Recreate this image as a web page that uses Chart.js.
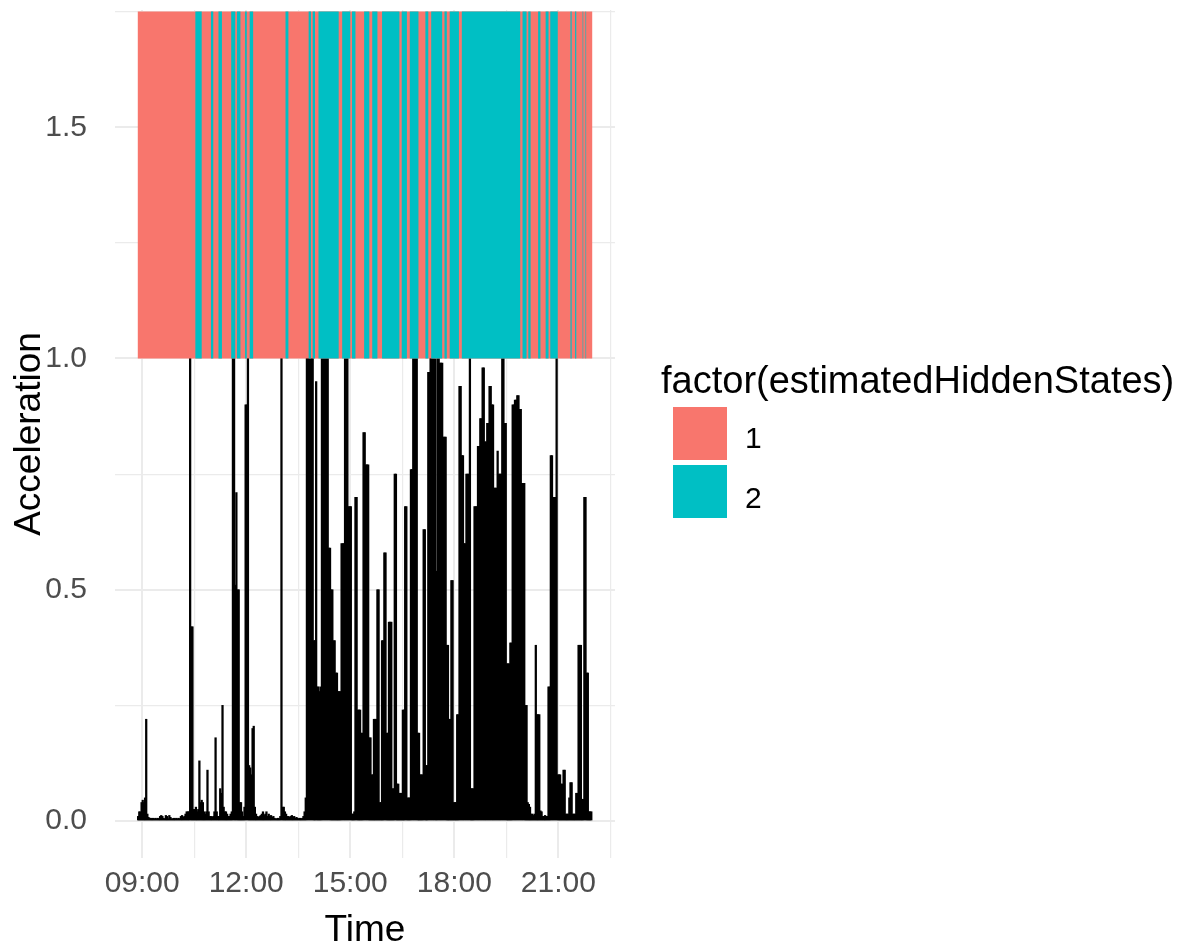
<!DOCTYPE html>
<html><head><meta charset="utf-8">
<script src="https://cdn.jsdelivr.net/npm/chart.js@4.4.0/dist/chart.umd.min.js"></script>
<style>
html,body{margin:0;padding:0;background:#fff;}
#wrap{position:relative;width:1185px;height:949px;overflow:hidden;}
#c{position:absolute;left:0;top:0;}
.lg{position:absolute;font-family:'Liberation Sans',Arial,sans-serif;color:#000;white-space:nowrap;line-height:1;}
.sw{position:absolute;width:54px;height:53px;}
</style></head><body>
<div id="wrap">
<canvas id="c" width="1185" height="949"></canvas>
<div class="lg" id="lgTitle" style="left:661px;top:361px;font-size:38px;"></div>
<div class="sw" id="sw1" style="left:673px;top:407px;"></div>
<div class="lg" id="lb1" style="left:745px;top:423px;font-size:30px;"></div>
<div class="sw" id="sw2" style="left:673px;top:465px;"></div>
<div class="lg" id="lb2" style="left:745px;top:483px;font-size:30px;"></div>
</div>
<script>
// ---- data ----
const startMinute = 533;   // 08:53
const stepMinutes = 2;
const acceleration = [
0.01,0.02,0.02,0.04,0.045,0.04,0.05,0.22,0.015,0.008,
0.006,0.006,0.005,0.006,0.005,0.006,0.005,0.006,0.005,0.01,
0.012,0.01,0.006,0.005,0.012,0.01,0.005,0.012,0.008,0.005,
0.005,0.006,0.005,0.006,0.005,0.006,0.005,0.01,0.012,0.008,
0.01,0.015,0.02,0.02,0.02,1.3,0.42,0.42,0.025,0.025,
0.03,0.02,0.025,0.13,0.04,0.045,0.04,0.02,0.015,0.02,
0.11,0.02,0.01,0.01,0.008,0.01,0.02,0.18,0.02,0.01,
0.01,0.07,0.06,0.25,0.03,0.02,0.02,0.015,0.01,0.01,
0.015,0.02,1.3,1.3,0.51,0.71,0.5,0.5,0.04,0.04,
0.02,0.01,0.03,0.9,0.9,1.3,0.12,0.115,0.1,0.2,
0.205,0.03,0.015,0.01,0.008,0.01,0.012,0.015,0.02,0.012,
0.015,0.02,0.01,0.015,0.01,0.012,0.008,0.01,0.006,0.005,
0.005,0.006,0.005,0.01,1.3,0.03,0.03,0.02,0.015,0.01,
0.01,0.008,0.01,0.012,0.008,0.01,0.006,0.008,0.006,0.005,
0.006,0.005,0.006,0.01,0.02,0.05,1.3,1.3,1.3,1.3,
1.3,1.3,0.39,0.39,0.95,0.29,0.29,0.28,0.29,1.3,
1.3,1.3,1.3,1.3,1.3,0.59,0.59,0.5,0.5,0.39,
0.39,0.32,0.32,0.28,0.28,0.28,0.6,0.6,0.6,1.3,
1.3,1.3,0.68,0.68,0.68,0.015,0.015,0.02,0.7,0.7,
0.24,0.24,0.24,0.19,0.19,0.84,0.84,0.77,0.77,0.77,
0.18,0.18,0.1,0.1,0.22,0.22,0.22,0.5,0.5,0.04,
0.04,0.39,0.39,0.58,0.58,0.19,0.19,0.43,0.43,0.43,
0.07,0.07,0.75,0.75,0.08,0.08,0.06,0.06,0.06,0.24,
0.24,0.68,0.68,0.05,0.05,0.05,0.76,0.76,1.3,1.3,
1.3,1.3,0.19,0.19,0.1,0.1,0.1,0.63,0.63,0.12,
0.12,0.97,0.97,1.3,1.3,1.0,1.0,1.0,0.54,1.3,
1.3,0.99,0.99,0.99,0.83,0.83,0.83,0.38,0.38,0.22,
0.22,0.52,0.52,0.04,0.04,0.04,0.23,0.23,0.94,0.94,
0.79,0.79,0.6,0.6,0.75,0.75,0.75,1.3,0.07,0.07,
0.07,0.68,0.68,0.68,0.81,0.81,0.87,0.87,0.98,0.98,
0.82,0.82,0.86,0.86,0.94,0.94,0.9,0.9,0.72,0.72,
0.72,0.8,0.75,0.75,0.75,1.3,1.3,0.86,0.86,0.34,
0.34,0.34,0.385,0.385,0.9,0.9,0.91,0.91,0.92,0.92,
0.89,0.89,0.73,0.73,0.73,0.25,0.25,0.04,0.036,0.03,
0.015,0.015,0.012,0.015,0.38,0.23,0.23,0.23,0.022,0.02,
0.01,0.01,0.012,0.01,0.01,0.29,0.29,0.79,0.79,0.7,
0.7,0.7,1.3,0.1,0.1,0.1,0.08,0.08,0.11,0.11,
0.015,0.015,0.015,0.05,0.083,0.083,0.015,0.015,0.015,0.06,
0.06,0.38,0.38,0.38,0.047,0.047,0.7,0.7,0.32,0.32,
0.02,0.02,0.02
];
// hidden state runs: start minute of each run and its state
const stateRunStart = [532,632,643,659,663,672,678,694,701,704,710,718,721,726,732,788,793,828,832,835,839,845,880,886,900,903,909,924,933,938,947,955,985,989,998,1003,1018,1030,1035,1040,1059,1063,1067,1072,1088,1093,1194,1198,1205,1208,1212,1225,1229,1238,1243,1246,1259,1281,1283,1289,1291,1302,1303,1307,1308];
const stateRunValue = [1,2,1,2,1,2,1,2,1,2,1,2,1,2,1,2,1,2,1,2,1,2,1,2,1,2,1,2,1,2,1,2,1,2,1,2,1,2,1,2,1,2,1,2,1,2,1,2,1,2,1,2,1,2,1,2,1,2,1,2,1,2,1,2,1];
const stateEnd = 1319;
const bandBottom = 1.0;
const bandTop = 1.75;
const stateLabels = ['1','2'];
const legendTitle = 'factor(estimatedHiddenStates)';
const xTickMinutes = [540,720,900,1080,1260];
const xTickLabels = ['09:00','12:00','15:00','18:00','21:00'];
const yTickValues = [0,0.5,1,1.5];
const yTickLabels = ['0.0','0.5','1.0','1.5'];

// ---- styles ----
const RED = '#F8766D', TEAL = '#00BFC4';
const FONT = "'Liberation Sans', Arial, sans-serif";

document.getElementById('lgTitle').textContent = legendTitle;
document.getElementById('lb1').textContent = stateLabels[0];
document.getElementById('lb2').textContent = stateLabels[1];
document.getElementById('sw1').style.background = RED;
document.getElementById('sw2').style.background = TEAL;

const accPoints = acceleration.map((v, i) => ({x: startMinute + i * stepMinutes, y: v}));
const tealPts = stateRunStart.map((t, k) => ({x: t, y: stateRunValue[k] === 2 ? bandTop : bandBottom}));
tealPts.push({x: stateEnd, y: stateRunValue[stateRunValue.length - 1] === 2 ? bandTop : bandBottom});
const redPts = [{x: stateRunStart[0], y: bandTop}, {x: stateEnd, y: bandTop}];

new Chart(document.getElementById('c'), {
  data: {
    datasets: [
      {type: 'line', label: stateLabels[1], data: tealPts, order: 0, stepped: true,
       fill: {value: bandBottom}, backgroundColor: TEAL, borderColor: 'rgba(0,0,0,0)', borderWidth: 0, pointRadius: 0},
      {type: 'line', label: stateLabels[0], data: redPts, order: 1,
       fill: {value: bandBottom}, backgroundColor: RED, borderColor: 'rgba(0,0,0,0)', borderWidth: 0, pointRadius: 0},
      {type: 'bar', label: 'Acceleration', data: accPoints, order: 2,
       backgroundColor: '#000000', borderWidth: 0, barThickness: 1.6, grouped: false}
    ]
  },
  options: {
    responsive: false, animation: false, events: [],
    layout: {padding: {left: 0, right: 570, top: 10, bottom: 0}},
    plugins: {legend: {display: false}, tooltip: {enabled: false}},
    scales: {
      x: {
        type: 'linear', min: 493, max: 1358, offset: false,
        border: {display: false},
        grid: {color: '#EBEBEB', drawTicks: false, offset: false,
               lineWidth: c => (c.tick && xTickMinutes.includes(c.tick.value)) ? 2 : 1.2},
        ticks: {stepSize: 90, includeBounds: false, autoSkip: false, maxRotation: 0, padding: 8,
                color: '#4D4D4D', font: {family: FONT, size: 30},
                callback: v => { const k = xTickMinutes.indexOf(v); return k >= 0 ? xTickLabels[k] : ''; }},
        title: {display: true, text: 'Time', color: '#000', font: {family: FONT, size: 37, lineHeight: 1},
                padding: {top: 0, bottom: 0}},
        afterFit: s => { s.height = 91; s.paddingLeft = 0; s.paddingRight = 0; }
      },
      y: {
        type: 'linear', min: -0.08, max: 1.7535,
        border: {display: false},
        grid: {color: '#EBEBEB', drawTicks: false,
               lineWidth: c => (c.tick && yTickValues.includes(c.tick.value)) ? 2 : 1.2},
        ticks: {stepSize: 0.25, includeBounds: false, autoSkip: false, padding: 28,
                color: '#4D4D4D', font: {family: FONT, size: 30},
                callback: v => { const k = yTickValues.indexOf(v); return k >= 0 ? yTickLabels[k] : ''; }},
        title: {display: true, text: 'Acceleration', color: '#000', font: {family: FONT, size: 37, lineHeight: 1},
                padding: {top: 11, bottom: 0}},
        afterFit: s => { s.width = 115; s.paddingTop = 0; s.paddingBottom = 0; }
      }
    }
  }
});
</script>
</body></html>
